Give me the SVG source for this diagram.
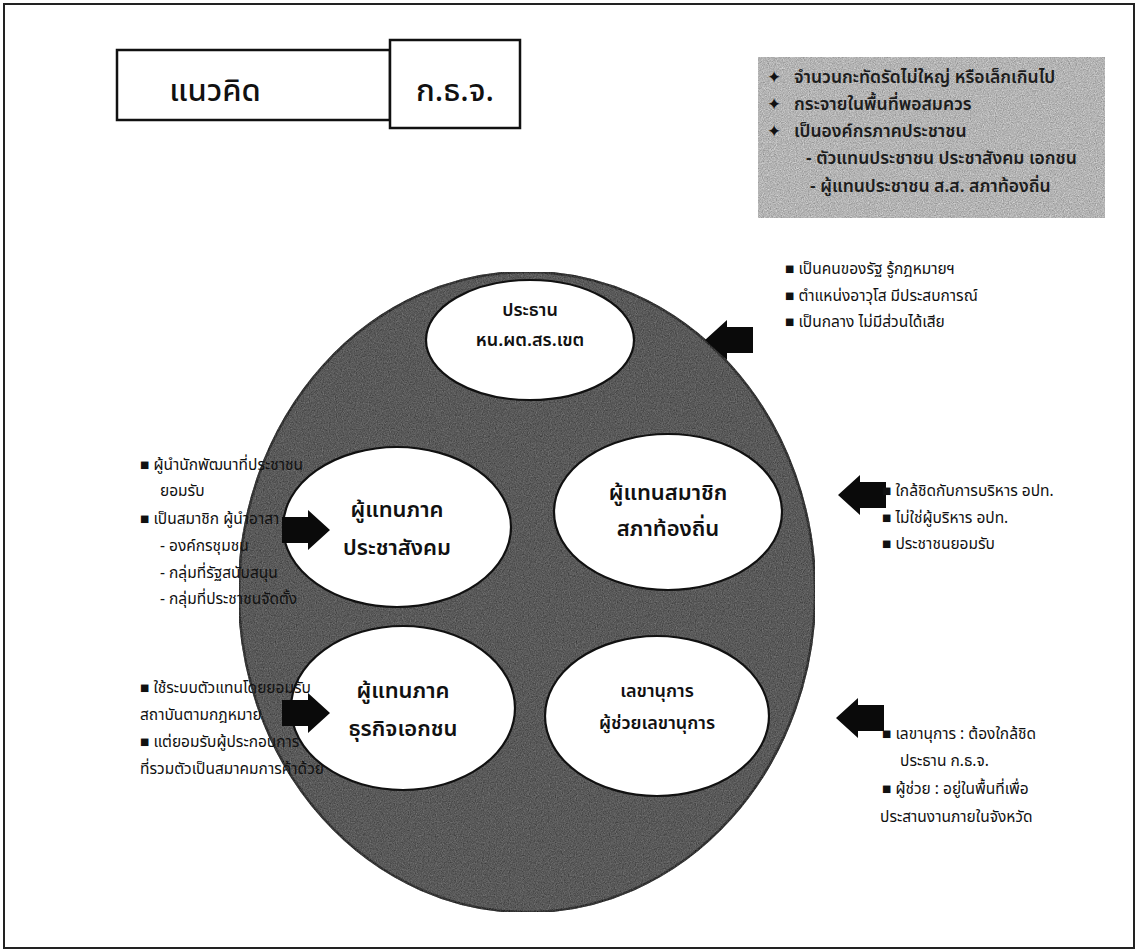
<svg xmlns="http://www.w3.org/2000/svg" width="1137" height="951" viewBox="0 0 1137 951">
<style>
  text { font-family: "Noto Sans Thai", "Noto Sans", "Liberation Sans", sans-serif; fill: #111; }
  .title { font-size: 31px; font-weight: 500; text-anchor: middle; }
  .note { font-size: 15.5px; }
  .gnote { font-size: 17.5px; font-weight: 600; fill: #1c1c1c; }
  .star { font-size: 17px; fill: #111; }
  .lbl { font-size: 22px; font-weight: 600; text-anchor: middle; }
  .lbls { font-size: 18px; font-weight: 600; text-anchor: middle; }
  .box { fill: #fff; stroke: #111; stroke-width: 2.5; }
  .inner { fill: #fff; stroke: #111; stroke-width: 2.2; }
  .arrow { fill: #0a0a0a; }
</style>
<defs>
  <filter id="grainDark" x="0" y="0" width="100%" height="100%" color-interpolation-filters="sRGB">
    <feTurbulence type="fractalNoise" baseFrequency="0.85" numOctaves="3" seed="5" result="t"/>
    <feColorMatrix in="t" type="matrix" values="0.33 0.33 0.33 0 -0.15  0.33 0.33 0.33 0 -0.15  0.33 0.33 0.33 0 -0.15  0 0 0 0 0.5" result="g"/>
    <feComposite in="g" in2="SourceGraphic" operator="in" result="gi"/>
    <feMerge><feMergeNode in="SourceGraphic"/><feMergeNode in="gi"/></feMerge>
  </filter>
  <filter id="grainLight" x="0" y="0" width="100%" height="100%" color-interpolation-filters="sRGB">
    <feTurbulence type="fractalNoise" baseFrequency="0.85" numOctaves="3" seed="9" result="t"/>
    <feColorMatrix in="t" type="matrix" values="0.4 0.4 0.4 0 0.1  0.4 0.4 0.4 0 0.1  0.4 0.4 0.4 0 0.1  0 0 0 0 0.5" result="g"/>
    <feComposite in="g" in2="SourceGraphic" operator="in" result="gi"/>
    <feMerge><feMergeNode in="SourceGraphic"/><feMergeNode in="gi"/></feMerge>
  </filter>
  <path id="arr" d="M-48,-13 L-22,-13 L-22,-20 L0,0 L-22,20 L-22,13 L-48,13 Z"/>
</defs>
<rect x="0" y="0" width="1137" height="951" fill="#fff"/>
<rect x="4" y="4" width="1130" height="944" fill="none" stroke="#222" stroke-width="2"/>

<g id="title-concept">
  <rect class="box" x="117" y="50" width="273" height="70"/>
  <text class="title" x="215" y="101">แนวคิด</text>
</g>
<g id="title-kthj">
  <rect class="box" x="390" y="40" width="130" height="88"/>
  <text class="title" x="455" y="101">ก.ธ.จ.</text>
</g>

<g id="criteria">
  <rect x="758" y="57" width="347" height="161" fill="#b4b4b4" filter="url(#grainLight)"/>
  <text class="star" x="767" y="83">✦</text>
  <text class="gnote" x="794" y="83">จำนวนกะทัดรัดไม่ใหญ่ หรือเล็กเกินไป</text>
  <text class="star" x="767" y="110">✦</text>
  <text class="gnote" x="794" y="110">กระจายในพื้นที่พอสมควร</text>
  <text class="star" x="767" y="137">✦</text>
  <text class="gnote" x="794" y="137">เป็นองค์กรภาคประชาชน</text>
  <text class="gnote" x="806" y="164">- ตัวแทนประชาชน ประชาสังคม เอกชน</text>
  <text class="gnote" x="810" y="192">- ผู้แทนประชาชน ส.ส.  สภาท้องถิ่น</text>
</g>

<g id="outer-ring">
  <ellipse cx="527" cy="592" rx="288" ry="320" fill="#5a5a5a" stroke="#111" stroke-width="2.5" filter="url(#grainDark)"/>
</g>

<g id="node-chair">
  <ellipse class="inner" cx="530" cy="340" rx="104" ry="60"/>
  <text class="lbls" x="530" y="316">ประธาน</text>
  <text class="lbls" x="530" y="346">หน.ผต.สร.เขต</text>
</g>
<g id="node-civil">
  <ellipse class="inner" cx="397" cy="527" rx="114" ry="80"/>
  <text class="lbl" x="397" y="517">ผู้แทนภาค</text>
  <text class="lbl" x="397" y="555">ประชาสังคม</text>
</g>
<g id="node-local">
  <ellipse class="inner" cx="668" cy="512" rx="114" ry="78"/>
  <text class="lbl" x="668" y="500">ผู้แทนสมาชิก</text>
  <text class="lbl" x="668" y="536">สภาท้องถิ่น</text>
</g>
<g id="node-business">
  <ellipse class="inner" cx="403" cy="708" rx="112" ry="82"/>
  <text class="lbl" x="403" y="698">ผู้แทนภาค</text>
  <text class="lbl" x="403" y="736">ธุรกิจเอกชน</text>
</g>
<g id="node-secretary">
  <ellipse class="inner" cx="657" cy="716" rx="112" ry="80"/>
  <text class="lbls" x="657" y="697">เลขานุการ</text>
  <text class="lbls" x="657" y="729">ผู้ช่วยเลขานุการ</text>
</g>

<g id="connectors">
  <use href="#arr" class="arrow" transform="translate(705,340) rotate(180)"/>
  <use href="#arr" class="arrow" transform="translate(330,530)"/>
  <use href="#arr" class="arrow" transform="translate(838,495) rotate(180)"/>
  <use href="#arr" class="arrow" transform="translate(330,713)"/>
  <use href="#arr" class="arrow" transform="translate(836,718) rotate(180)"/>
</g>

<g id="notes-chair">
  <text class="note" x="785" y="274">■ เป็นคนของรัฐ รู้กฎหมายฯ</text>
  <text class="note" x="785" y="301">■ ตำแหน่งอาวุโส มีประสบการณ์</text>
  <text class="note" x="785" y="327">■ เป็นกลาง ไม่มีส่วนได้เสีย</text>
</g>
<g id="notes-civil">
  <text class="note" x="140" y="470">■ ผู้นำนักพัฒนาที่ประชาชน</text>
  <text class="note" x="160" y="496">ยอมรับ</text>
  <text class="note" x="140" y="524">■ เป็นสมาชิก ผู้นำอาสา</text>
  <text class="note" x="160" y="551">- องค์กรชุมชน</text>
  <text class="note" x="160" y="578">- กลุ่มที่รัฐสนับสนุน</text>
  <text class="note" x="160" y="604">- กลุ่มที่ประชาชนจัดตั้ง</text>
</g>
<g id="notes-local">
  <text class="note" x="882" y="496">■ ใกล้ชิดกับการบริหาร อปท.</text>
  <text class="note" x="882" y="523">■ ไม่ใช่ผู้บริหาร อปท.</text>
  <text class="note" x="882" y="549">■ ประชาชนยอมรับ</text>
</g>
<g id="notes-business">
  <text class="note" x="140" y="693">■ ใช้ระบบตัวแทนโดยยอมรับ</text>
  <text class="note" x="140" y="720">สถาบันตามกฎหมาย</text>
  <text class="note" x="140" y="747">■ แต่ยอมรับผู้ประกอบการ</text>
  <text class="note" x="140" y="774">ที่รวมตัวเป็นสมาคมการค้าด้วย</text>
</g>
<g id="notes-secretary">
  <text class="note" x="882" y="739">■ เลขานุการ : ต้องใกล้ชิด</text>
  <text class="note" x="900" y="766">ประธาน ก.ธ.จ.</text>
  <text class="note" x="882" y="794">■ ผู้ช่วย : อยู่ในพื้นที่เพื่อ</text>
  <text class="note" x="880" y="822">ประสานงานภายในจังหวัด</text>
</g>
</svg>
